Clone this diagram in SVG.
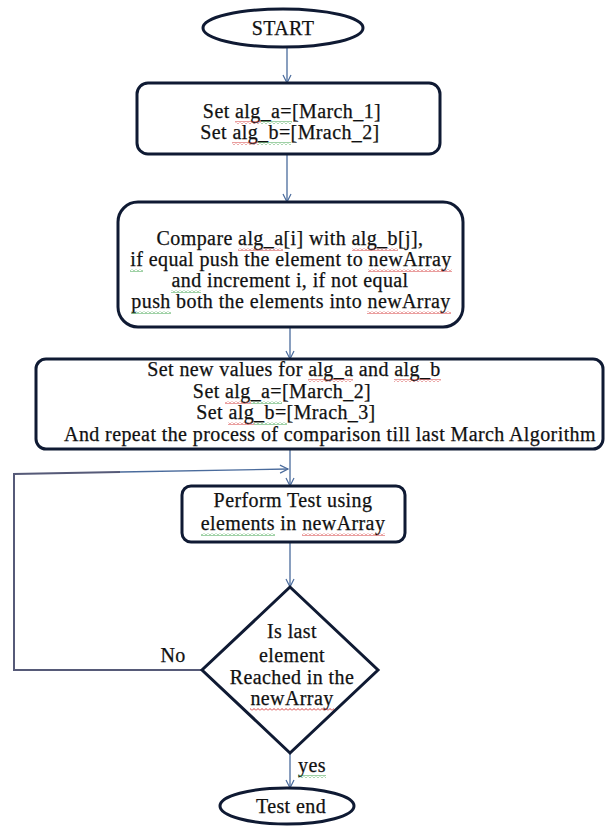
<svg xmlns="http://www.w3.org/2000/svg" width="605" height="826" viewBox="0 0 605 826">
<defs>
<marker id="arr" markerWidth="12" markerHeight="12" refX="9" refY="5" orient="auto" markerUnits="userSpaceOnUse">
<path d="M1,1 L9,5 L1,9" fill="none" stroke="#4a6b9c" stroke-width="1.2"/>
</marker>
<pattern id="wr" width="4" height="3" patternUnits="userSpaceOnUse">
<path d="M0,2.5 L2,0.5 L4,2.5" fill="none" stroke="#d02828" stroke-width="0.9"/>
</pattern>
<pattern id="wg" width="4" height="3" patternUnits="userSpaceOnUse">
<path d="M0,2.5 L2,0.5 L4,2.5" fill="none" stroke="#2a9a3a" stroke-width="0.9"/>
</pattern>
<style>
.shape{fill:#fff;stroke:#0f1a33;stroke-width:3}
.t{font-family:"Liberation Serif","Times New Roman",serif;font-size:20px;letter-spacing:0.4px;fill:#111;stroke:#111;stroke-width:0.25;text-anchor:middle}
.c{fill:none;stroke:#4a6b9c;stroke-width:1.3}
.loop{fill:none;stroke:#565a78;stroke-width:2}
.r{fill:url(#wr)}
.g{fill:url(#wg)}
</style>
</defs>
<rect width="605" height="826" fill="#fff"/>
<g id="connectors">
<line class="c" x1="287" y1="47" x2="287" y2="83" marker-end="url(#arr)"/>
<line class="c" x1="287" y1="154" x2="287" y2="202" marker-end="url(#arr)"/>
<line class="c" x1="290" y1="327" x2="290" y2="359" marker-end="url(#arr)"/>
<line class="c" x1="290" y1="449" x2="290" y2="486" marker-end="url(#arr)"/>
<polyline class="loop" points="202,670 14,670 14,474 120,472"/>
<polyline class="c" points="120,472 288,469" marker-end="url(#arr)"/>
<line class="c" x1="290" y1="542" x2="290" y2="587" marker-end="url(#arr)"/>
<line class="c" x1="290" y1="753" x2="290" y2="788" marker-end="url(#arr)"/>
</g>
<g id="start">
<ellipse class="shape" cx="283" cy="28" rx="80" ry="19"/>
<text class="t" x="283" y="35">START</text>
</g>
<g id="setAB">
<rect class="shape" x="137" y="83" width="303" height="71" rx="11"/>
<text class="t" x="292" y="118">Set alg_a=[March_1]</text>
<text class="t" x="290" y="139">Set alg_b=[Mrach_2]</text>
<rect class="r" x="235" y="121" width="26" height="3"/>
<rect class="g" x="261" y="121" width="31" height="3"/>
<rect class="r" x="232" y="142" width="26" height="3"/>
<rect class="g" x="258" y="142" width="33" height="3"/>
</g>
<g id="compare">
<rect class="shape" x="118" y="202" width="345" height="125" rx="20"/>
<text class="t" x="290" y="245">Compare alg_a[i] with alg_b[j],</text>
<text class="t" x="291" y="266">if equal push the element to newArray</text>
<text class="t" x="290" y="287">and increment i, if not equal</text>
<text class="t" x="291" y="308">push both the elements into newArray</text>
<rect class="r" x="238" y="248" width="45" height="3"/>
<rect class="r" x="352" y="248" width="46" height="3"/>
<rect class="g" x="130" y="269" width="13" height="3"/>
<rect class="r" x="368" y="269" width="84" height="3"/>
<rect class="g" x="171" y="290" width="30" height="3"/>
<rect class="g" x="131" y="311" width="40" height="3"/>
<rect class="r" x="367" y="311" width="84" height="3"/>
</g>
<g id="setNew">
<rect class="shape" x="36" y="359" width="567" height="90" rx="10"/>
<text class="t" x="294" y="376">Set new values for alg_a and alg_b</text>
<text class="t" x="282" y="398">Set alg_a=[March_2]</text>
<text class="t" x="286" y="419">Set alg_b=[Mrach_3]</text>
<text class="t" x="330" y="441">And repeat the process of comparison till last March Algorithm</text>
<rect class="r" x="308" y="379" width="45" height="3"/>
<rect class="r" x="394" y="379" width="47" height="3"/>
<rect class="r" x="225" y="401" width="26" height="3"/>
<rect class="g" x="251" y="401" width="31" height="3"/>
<rect class="r" x="228" y="422" width="26" height="3"/>
<rect class="g" x="254" y="422" width="33" height="3"/>
</g>
<g id="perform">
<rect class="shape" x="182" y="486" width="223" height="56" rx="9"/>
<text class="t" x="293" y="507">Perform Test using</text>
<text class="t" x="293" y="530">elements in newArray</text>
<rect class="g" x="201" y="533" width="74" height="3"/>
<rect class="r" x="302" y="533" width="83" height="3"/>
</g>
<g id="decision">
<polygon class="shape" points="290,587 378,670 290,753 202,670"/>
<text class="t" x="292" y="638">Is last</text>
<text class="t" x="292" y="662">element</text>
<text class="t" x="292" y="684">Reached in the</text>
<text class="t" x="292" y="705">newArray</text>
<rect class="r" x="250" y="708" width="84" height="3"/>
</g>
<g id="labels">
<text class="t" x="173" y="662">No</text>
<text class="t" x="312" y="772">yes</text>
<rect class="g" x="298" y="775" width="28" height="3"/>
</g>
<g id="end">
<ellipse class="shape" cx="287" cy="806" rx="67" ry="18"/>
<text class="t" x="291" y="813">Test end</text>
</g>
</svg>
